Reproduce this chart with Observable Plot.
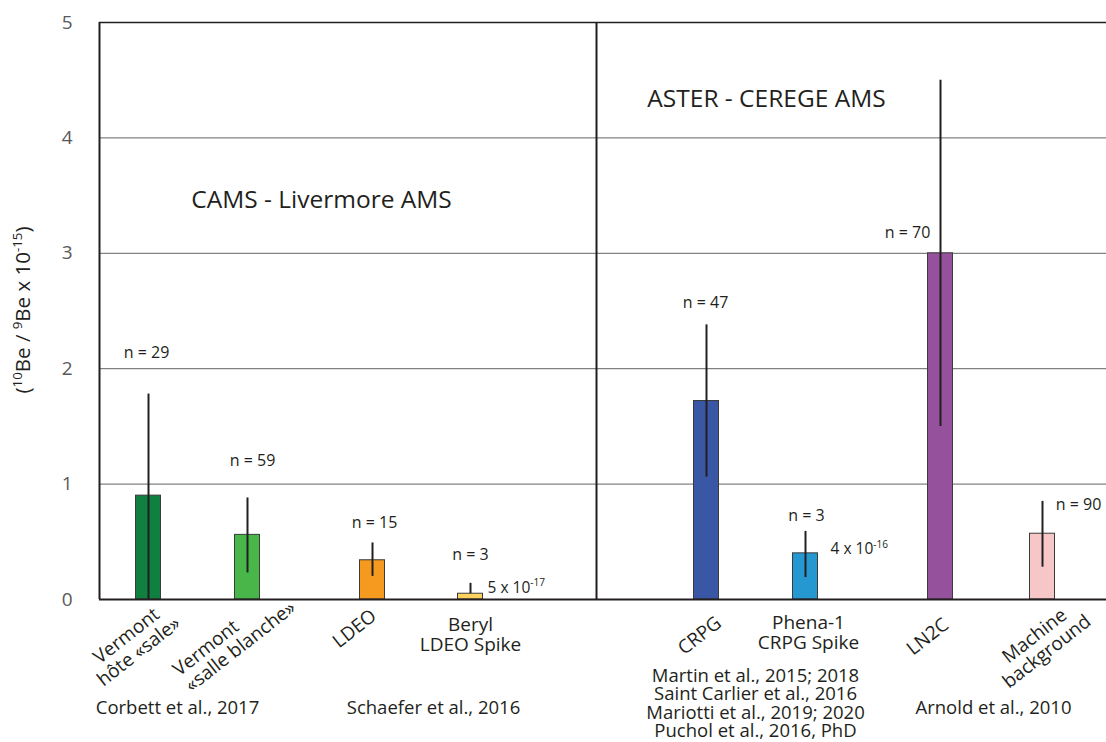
<!DOCTYPE html>
<html><head><meta charset="utf-8">
<script src="https://cdn.jsdelivr.net/npm/d3@7"></script>
<script src="https://cdn.jsdelivr.net/npm/@observablehq/plot@0.6"></script>
<style>body{margin:0;background:#fff;}</style>
</head><body><div id="chart"></div>
<script>
// ---- data ----
const categories = ["Vermont\nhôte «sale»", "Vermont\n«salle blanche»", "LDEO", "Beryl\nLDEO Spike",
                    "CRPG", "Phena-1\nCRPG Spike", "LN2C", "Machine\nbackground"];
const values   = [0.90, 0.56, 0.34, 0.05, 1.72, 0.40, 3.00, 0.57];
const errLow   = [0.00, 0.23, 0.20, 0.05, 1.06, 0.19, 1.50, 0.28];
const errHigh  = [1.78, 0.88, 0.49, 0.14, 2.38, 0.59, 4.50, 0.85];
const nCounts  = [29, 59, 15, 3, 47, 3, 70, 90];
const colors   = ["#0f8040", "#48b649", "#f5991f", "#fdd35f", "#3a57a5", "#2598d1", "#96519d", "#f7c7c8"];
const blankNotes = [{i: 3, text: "5 x 10^{-17}"}, {i: 5, text: "4 x 10^{-16}"}];
const facilities = ["CAMS - Livermore AMS", "ASTER - CEREGE AMS"];
const references = ["Corbett et al., 2017", "Schaefer et al., 2016",
  "Martin et al., 2015; 2018\nSaint Carlier et al., 2016\nMariotti et al., 2019; 2020\nPuchol et al., 2016, PhD",
  "Arnold et al., 2010"];
const yTicks = [0, 1, 2, 3, 4, 5];
const yLabel = "(^{10}Be / ^{9}Be x 10^{-15})";

// ---- layout ----
const slots = [0.49, 1.48, 2.73, 3.71, 6.07, 7.06, 8.41, 9.43];
const dividerSlot = 4.97;
const barHalf = 0.125;
// [dx, dy, rotate, textAnchor]
const catLayout = [[-16, 44, -38, "middle"], [-66, 80, -38, "start"], [-18, 29, -38, "middle"], [0, 35, 0, "middle"],
                   [-7, 36, -38, "middle"], [3, 33, 0, "middle"], [-13, 37, -38, "middle"], [-2, 44, -38, "middle"]];
const nLayout = [[-2, -143], [5, -74], [2, -37], [0, -39], [-1, -98], [1, -37], [-33, -20], [36, -29]];
const noteLayout = [[17, -6], [25, -4]];
const facilityPos = [[2.22, 3.46], [6.67, 4.34]];
const refPos = [[0.78, 109], [3.34, 109], [6.56, 104], [8.94, 109]];

const rows = categories.map((c, i) => ({c, v: values[i], lo: errLow[i], hi: errHigh[i], n: nCounts[i], color: colors[i], s: slots[i]}));
const font = "'Open Sans', sans-serif";
const ink = "#231f20";

const marks = [
  Plot.ruleY([1, 2, 3, 4], {stroke: "#626366", strokeWidth: 1}),
  Plot.ruleY([5], {stroke: ink, strokeWidth: 1.5}),
  Plot.rectY(rows, {x1: d => d.s - barHalf, x2: d => d.s + barHalf, y1: 0, y2: "v", fill: d => d.color, stroke: "#3b3b3b", strokeWidth: 1}),
  Plot.ruleX(rows, {x: "s", y1: "lo", y2: "hi", stroke: ink, strokeWidth: 2}),
  Plot.ruleX([dividerSlot], {y1: 0, y2: 5, stroke: ink, strokeWidth: 2}),
  Plot.ruleX([0], {y1: 0, y2: 5, stroke: ink, strokeWidth: 2}),
  Plot.ruleY([0], {stroke: ink, strokeWidth: 2}),
  Plot.axisY({ticks: yTicks, tickFormat: "d", tickSize: 0, tickPadding: 27, fontSize: 19, fill: "#58595b", label: null}),
  Plot.text([yLabel], {frameAnchor: "left", textAnchor: "middle", dx: -76, dy: -1, rotate: -90, fontSize: 20.5, fill: ink}),
  ...rows.map((d, i) => Plot.text([d], {x: "s", y: 0, text: "c", dx: catLayout[i][0], dy: catLayout[i][1], rotate: catLayout[i][2], textAnchor: catLayout[i][3], fontSize: 19, lineHeight: 1.05, fill: ink})),
  ...rows.map((d, i) => Plot.text([d], {x: "s", y: "v", text: d => `n = ${d.n}`, dx: nLayout[i][0], dy: nLayout[i][1], fontSize: 16, fill: ink})),
  ...blankNotes.map((b, k) => Plot.text([b], {x: slots[b.i], y: values[b.i], text: "text", textAnchor: "start", dx: noteLayout[k][0], dy: noteLayout[k][1], fontSize: 15.5, fill: ink})),
  ...facilities.map((f, k) => Plot.text([f], {x: facilityPos[k][0], y: facilityPos[k][1], fontSize: 24.5, fill: ink})),
  ...references.map((r, k) => Plot.text([r], {x: refPos[k][0], y: 0, dy: refPos[k][1], fontSize: 18.5, lineHeight: 1.0, fill: ink}))
];

const chart = Plot.plot({
  width: 1106, height: 742,
  marginLeft: 99, marginRight: 0, marginTop: 22, marginBottom: 143,
  style: {fontFamily: font, background: "#fff"},
  x: {domain: [0, 10.07], axis: null},
  y: {domain: [0, 5]},
  marks
});
document.getElementById("chart").appendChild(chart);

// superscripts: "^{...}" -> raised tspans
chart.querySelectorAll("text").forEach(t => {
  if (t.querySelector("tspan")) return;
  const s = t.textContent;
  if (!s.includes("^{")) return;
  const fs = parseFloat(getComputedStyle(t).fontSize) || 16;
  const shift = fs * 0.4;
  const parts = s.split(/\^\{([^}]*)\}/);
  t.textContent = "";
  let raised = false;
  parts.forEach((p, i) => {
    if (!p) return;
    const ts = document.createElementNS("http://www.w3.org/2000/svg", "tspan");
    if (i % 2 === 1) {
      ts.setAttribute("font-size", (fs * 0.65).toFixed(1));
      if (!raised) { ts.setAttribute("dy", (-shift).toFixed(1)); raised = true; }
    } else if (raised) {
      ts.setAttribute("dy", shift.toFixed(1)); raised = false;
    }
    ts.textContent = p;
    t.appendChild(ts);
  });
});
</script>
</body></html>
